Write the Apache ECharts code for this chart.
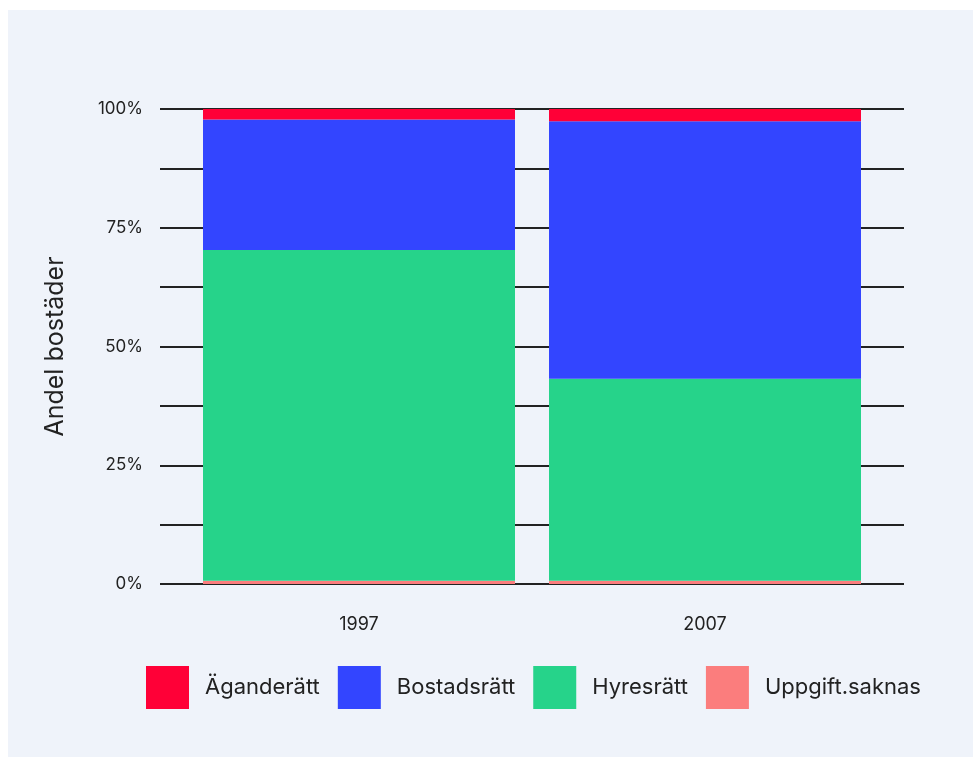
<!DOCTYPE html>
<html>
<head>
<meta charset="utf-8">
<script src="https://cdn.jsdelivr.net/npm/echarts@6/dist/echarts.min.js"></script>
<style>
  html, body { margin: 0; padding: 0; background: #ffffff; }
  #chart { width: 974px; height: 758px; }
</style>
</head>
<body>
<div id="chart"></div>
<script>
// kategorier och andelar (%)
const years = ["1997", "2007"];
const uppgiftSaknas = [0.7, 0.7];
const hyresratt = [69.6, 42.5];
const bostadsratt = [27.5, 54.2];
const aganderatt = [2.2, 2.6];
const yTicks = [0, 25, 50, 75, 100];

const colors = {
  "Äganderätt": "#ff0037",
  "Bostadsrätt": "#3345ff",
  "Hyresrätt": "#26d38a",
  "Uppgift.saknas": "#fb7d7d",
};

const myChart = echarts.init(document.getElementById("chart"));

const barSeries = (name, data) => ({
  name: name,
  type: "bar",
  stack: "total",
  xAxisIndex: 1,
  yAxisIndex: 1,
  barWidth: 312,
  data: data,
  itemStyle: { color: colors[name] },
  emphasis: { disabled: true },
});

const options = {
  animation: false,
  backgroundColor: "#ffffff",
  textStyle: { fontFamily: "Inter, 'Noto Sans', sans-serif" },
  graphic: [
    {
      type: "rect",
      left: 8,
      top: 10,
      shape: { width: 965, height: 747 },
      style: { fill: "#eff3fa" },
      z: -10,
    },
  ],
  // grid 0: stödlinjer över hela panelen, grid 1: staplarna
  grid: [
    { left: 160, right: 70, top: 109, bottom: 174 },
    { left: 186, right: 96, top: 109, bottom: 174 },
  ],
  xAxis: [
    { gridIndex: 0, type: "value", show: false, min: 0, max: 1 },
    {
      gridIndex: 1,
      type: "category",
      data: years,
      axisLine: { show: false },
      axisTick: { show: false },
      axisLabel: { color: "#222222", fontSize: 18, margin: 32 },
    },
  ],
  yAxis: [
    {
      gridIndex: 0,
      type: "value",
      min: 0,
      max: 100,
      interval: 12.5,
      axisLine: { show: false },
      axisTick: { show: false },
      axisLabel: {
        color: "#222222",
        fontSize: 17,
        margin: 17,
        formatter: (v) => (yTicks.includes(v) ? v + "%" : ""),
      },
      splitLine: { lineStyle: { color: "#222222", width: 2 } },
      name: "Andel bostäder",
      nameLocation: "middle",
      nameRotate: 90,
      nameGap: 92,
      nameTextStyle: { color: "#222222", fontSize: 25 },
    },
    {
      gridIndex: 1,
      type: "value",
      min: 0,
      max: 100,
      show: false,
      splitLine: { show: false },
    },
  ],
  legend: {
    left: 146,
    top: 666,
    padding: 0,
    itemWidth: 43,
    itemHeight: 43,
    itemGap: 18,
    icon: "rect",
    data: ["Äganderätt", "Bostadsrätt", "Hyresrätt", "Uppgift.saknas"],
    textStyle: { color: "#222222", fontSize: 22, padding: [0, 0, 0, 11] },
    selectedMode: false,
  },
  series: [
    barSeries("Uppgift.saknas", uppgiftSaknas),
    barSeries("Hyresrätt", hyresratt),
    barSeries("Bostadsrätt", bostadsratt),
    barSeries("Äganderätt", aganderatt),
  ],
};

myChart.setOption(options);
</script>
</body>
</html>
